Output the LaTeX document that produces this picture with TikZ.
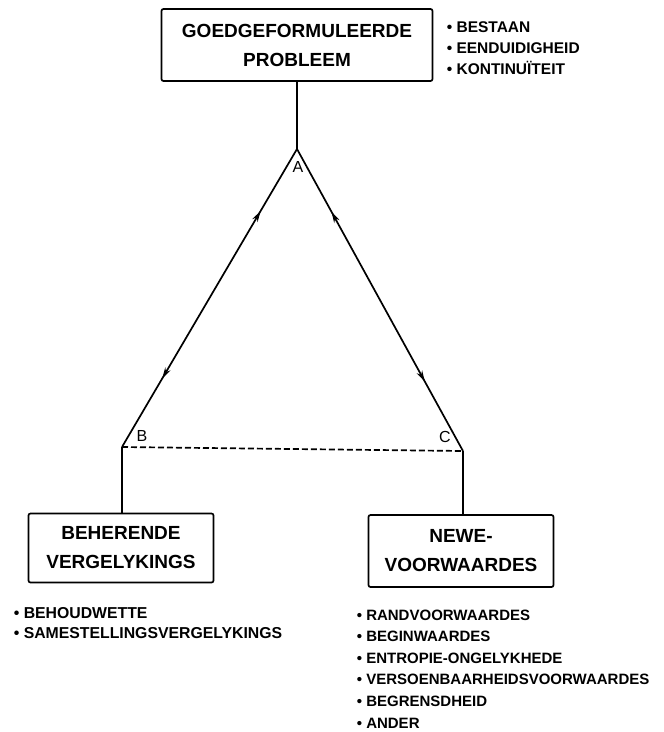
\documentclass[tikz,border=0pt]{standalone}
\usepackage{fontspec}
\setmainfont{Liberation Sans}
\usetikzlibrary{positioning, arrows.meta, decorations.markings}

\begin{document}
\begin{tikzpicture}[x=1pt, y=-1pt, line width=1.7pt,
    box/.style = {draw, rounded corners=2pt, inner sep=0pt, align=center,
                  font=\bfseries\fontsize{19}{29}\selectfont},
    item/.style = {anchor=base west, inner sep=0pt, font=\bfseries\fontsize{#1}{15}\selectfont},
    item/.default = 15,
    corner/.style = {inner sep=0pt, font=\fontsize{16}{16}\selectfont},
    twoway/.style = {decoration={markings,
                       mark=at position 0.24 with {\arrow{Stealth[length=11pt,width=6pt,reversed]}},
                       mark=at position 0.77 with {\arrow{Stealth[length=11pt,width=6pt]}}},
                     postaction={decorate}}]
    \useasboundingbox (0,0) rectangle (664,732);

    % corners of the triangle
    \coordinate (A) at (297,149);
    \coordinate (B) at (122,447);
    \coordinate (C) at (463,451);

    % the three boxes
    \node[box, minimum width=271pt, minimum height=72pt] (probleem) at (297,45) {GOEDGEFORMULEERDE\\PROBLEEM};
    \node[box, minimum width=185pt, minimum height=69pt] (beherende) at (121,548) {BEHERENDE\\VERGELYKINGS};
    \node[box, minimum width=185pt, minimum height=72pt] (newe) at (461,551) {NEWE-\\VOORWAARDES};

    % lists of items
    \foreach \txt [count=\i] in {BESTAAN, EENDUIDIGHEID, KONTINUÏTEIT}
        \node[item=15.5] (eis\i) at (446, {11.5+21*\i}) {\textbullet\ \txt};
    \foreach \txt [count=\i] in {BEHOUDWETTE, SAMESTELLINGSVERGELYKINGS}
        \node[item=15.8] (wet\i) at (13, {599+19.5*\i}) {\textbullet\ \txt};
    \foreach \txt [count=\i] in {RANDVOORWAARDES, BEGINWAARDES, ENTROPIE-ONGELYKHEDE,
                                 VERSOENBAARHEIDSVOORWAARDES, BEGRENSDHEID, ANDER}
        \node[item] (voorw\i) at (356, {598.5+21.6*\i}) {\textbullet\ \txt};

    % corner labels
    \node[corner] (labA) at (298,167) {A};
    \node[corner] (labB) at (142,436) {B};
    \node[corner] (labC) at (445,437) {C};

    % connectors
    \draw (probleem) -- (A);
    \draw[twoway] (A) -- (B);
    \draw[twoway] (A) -- (C);
    \draw[dash pattern=on 6pt off 3pt] (B) -- (C);
    \draw (B) -- (B |- beherende.north);
    \draw (C) -- (C |- newe.north);
\end{tikzpicture}
\end{document}
